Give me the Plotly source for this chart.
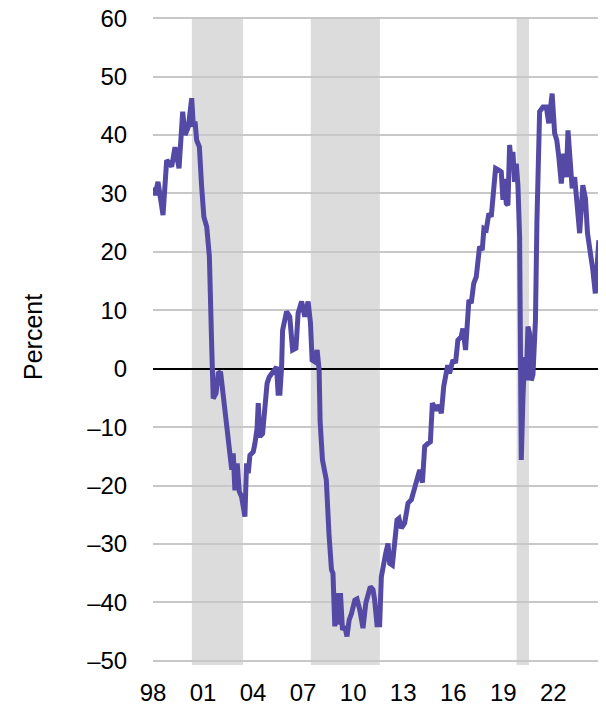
import plotly.graph_objects as go

# Shaded periods (decimal years)
band_start = [2000.33, 2007.46, 2019.80]
band_end = [2003.40, 2011.60, 2020.54]

# Series (decimal years, percent)
years = [
    1998.00, 1998.12, 1998.30, 1998.60, 1998.82, 1999.12, 1999.32, 1999.56, 1999.78, 1999.92,
    2000.12, 2000.32, 2000.42, 2000.52, 2000.62, 2000.78, 2000.92, 2001.05, 2001.22, 2001.38,
    2001.52, 2001.61, 2001.78, 2001.91, 2002.05, 2002.21, 2002.42, 2002.57, 2002.72, 2002.81,
    2002.91, 2003.05, 2003.17, 2003.31, 2003.51, 2003.61, 2003.71, 2003.81, 2004.01, 2004.11,
    2004.24, 2004.31, 2004.41, 2004.57, 2004.71, 2004.84, 2004.97, 2005.11, 2005.24, 2005.41,
    2005.50, 2005.61, 2005.71, 2005.77, 2006.01, 2006.20, 2006.37, 2006.57, 2006.70, 2006.91,
    2007.10, 2007.30, 2007.44, 2007.54, 2007.70, 2007.84, 2007.96, 2008.02, 2008.16, 2008.39,
    2008.55, 2008.70, 2008.79, 2008.90, 2009.03, 2009.16, 2009.24, 2009.36, 2009.50, 2009.63,
    2009.76, 2009.90, 2010.10, 2010.23, 2010.40, 2010.59, 2010.76, 2010.89, 2011.03, 2011.19,
    2011.29, 2011.43, 2011.59, 2011.69, 2011.83, 2011.95, 2012.09, 2012.19, 2012.35, 2012.49,
    2012.63, 2012.75, 2012.89, 2013.09, 2013.29, 2013.49, 2013.69, 2013.88, 2013.99, 2014.15,
    2014.29, 2014.48, 2014.63, 2014.75, 2014.99, 2015.14, 2015.29, 2015.43, 2015.54, 2015.67,
    2015.78, 2015.98, 2016.14, 2016.28, 2016.48, 2016.58, 2016.74, 2016.82, 2016.94, 2017.08,
    2017.23, 2017.38, 2017.58, 2017.74, 2017.84, 2017.98, 2018.14, 2018.28, 2018.38, 2018.54,
    2018.73, 2018.88, 2018.98, 2019.08, 2019.18, 2019.28, 2019.38, 2019.48, 2019.58, 2019.68,
    2019.78, 2019.88, 2019.98, 2020.08, 2020.18, 2020.28, 2020.38, 2020.48, 2020.58, 2020.68,
    2020.78, 2020.93, 2021.02, 2021.13, 2021.18, 2021.38, 2021.58, 2021.73, 2021.93, 2022.08,
    2022.21, 2022.33, 2022.48, 2022.62, 2022.78, 2022.88, 2023.02, 2023.13, 2023.28, 2023.41,
    2023.58, 2023.77, 2023.93, 2024.05, 2024.21, 2024.37, 2024.52, 2024.63, 2024.73,
]
values = [
    31.0, 29.7, 32.0, 26.3, 35.7, 34.6, 37.9, 34.3, 44.0, 40.0,
    41.4, 46.3, 41.4, 42.3, 39.1, 38.0, 31.0, 26.0, 24.3, 19.2,
    3.8, -5.1, -4.2, -0.8, -0.5, -4.2, -8.8, -12.8, -17.3, -14.5,
    -20.8, -16.2, -21.0, -21.9, -25.3, -16.2, -17.9, -14.8, -14.2, -12.8,
    -10.2, -5.9, -11.6, -11.1, -7.6, -2.5, -1.4, -0.8, -0.2, 0.3,
    -4.2, -4.2, 0.3, 6.6, 9.8, 8.9, 3.2, 3.5, 9.5, 11.5,
    8.9, 11.5, 7.9, 1.5, 1.2, 3.2, -0.2, -9.0, -15.6, -19.0,
    -28.2, -34.4, -35.0, -44.1, -38.4, -43.8, -38.4, -44.7, -44.1, -45.8,
    -43.0, -41.9, -39.6, -39.4, -41.3, -44.4, -40.1, -39.0, -37.3, -37.8,
    -39.6, -43.8, -43.8, -35.6, -32.7, -31.6, -29.9, -33.3, -33.6, -30.5,
    -25.9, -25.6, -27.3, -26.4, -23.0, -22.4, -20.2, -17.9, -17.3, -19.5,
    -13.3, -12.8, -12.5, -5.9, -7.1, -6.2, -7.6, -3.0, -0.6, 0.6,
    -0.8, 1.5, 1.0, 4.9, 5.5, 6.9, 3.2, 7.0, 11.8, 11.2,
    14.6, 15.7, 20.9, 20.3, 24.0, 23.8, 26.6, 26.0, 30.0, 34.3,
    34.0, 33.7, 28.9, 32.5, 28.3, 28.0, 38.3, 35.1, 37.1, 32.0,
    35.1, 31.4, 22.6, -15.6, -5.0, 2.0, -2.0, 7.2, 6.0, -2.0,
    -1.0, 8.3, 25.4, 42.5, 44.0, 44.8, 44.8, 42.0, 47.1, 40.3,
    39.1, 36.3, 31.7, 36.8, 32.8, 40.8, 36.3, 30.9, 32.8, 27.7,
    23.2, 31.4, 29.1, 23.2, 20.3, 16.9, 12.9, 18.0, 22.0,
]

x_tickvals = [1998, 2001, 2004, 2007, 2010, 2013, 2016, 2019, 2022]
x_ticktext = ["98", "01", "04", "07", "10", "13", "16", "19", "22"]
y_tickvals = [-50, -40, -30, -20, -10, 0, 10, 20, 30, 40, 50, 60]
y_ticktext = [("\u2013" + str(-v)) if v < 0 else str(v) for v in y_tickvals]

FONT = "Liberation Sans, Arial, sans-serif"

# The page body adds an 8px offset, so the figure is sized to fit the window
W, H = 598, 698
ML, MR, MT, MB = 145, 6, 9, 41
PW, PH = W - ML - MR, H - MT - MB

fig = go.Figure()
fig.add_trace(go.Scatter(
    x=years, y=values, mode="lines",
    line=dict(color="#5549A6", width=5),
    hoverinfo="skip", showlegend=False,
))

shapes = []
for s, e in zip(band_start, band_end):
    shapes.append(dict(type="rect", xref="x", yref="y", x0=s, x1=e, y0=-50.7, y1=60,
                       fillcolor="#dcdcdc", line=dict(width=0), layer="below"))

fig.update_layout(
    width=W, height=H,
    margin=dict(l=ML, r=MR, t=MT, b=MB, autoexpand=False),
    paper_bgcolor="white", plot_bgcolor="rgba(0,0,0,0)",
    font=dict(family=FONT, size=24, color="#000000"),
    shapes=shapes,
    showlegend=False,
    annotations=[dict(text="Percent", xref="paper", yref="paper",
                      x=(25 - ML) / PW, y=(MT + PH - 329) / PH, showarrow=False,
                      textangle=-90, font=dict(family=FONT, size=25, color="#000"),
                      xanchor="center", yanchor="middle")],
)
fig.update_xaxes(
    range=[1998, 2024.8], tickvals=x_tickvals, ticktext=x_ticktext,
    showgrid=False, zeroline=False, showline=False,
    ticks="outside", ticklen=6, tickcolor="rgba(0,0,0,0)",
    tickfont=dict(family=FONT, size=24), automargin=False,
    ticklabeloverflow="allow",
)
fig.update_yaxes(
    range=[-50.7, 60.2], tickvals=y_tickvals, ticktext=y_ticktext,
    showgrid=True, gridcolor="#c8c8c8", gridwidth=2,
    zeroline=True, zerolinecolor="#000000", zerolinewidth=2,
    showline=False, ticks="outside", ticklen=20, tickcolor="rgba(0,0,0,0)",
    tickfont=dict(family=FONT, size=24), automargin=False,
    ticklabeloverflow="allow",
)

fig.write_html("out.html")
